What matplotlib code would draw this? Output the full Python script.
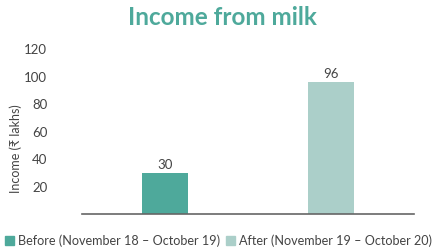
import matplotlib
matplotlib.use("Agg")
import matplotlib.pyplot as plt
from matplotlib.patches import Patch

plt.rcParams['font.family'] = ['Lato', 'DejaVu Sans']

periods = ["Before (November 18 – October 19)", "After (November 19 – October 20)"]
income = [30, 96]
colors = ["#4ea99b", "#abcfc9"]
yticks = [20, 40, 60, 80, 100, 120]

TEXT = "#444444"

fig = plt.figure(figsize=(4.43, 2.52), dpi=100)
ax = fig.add_axes([0.1851, 0.1508, 0.7494, 0.6528])

x = range(len(income))
bars = ax.bar(x, income, width=0.28, color=colors)
for b, v in zip(bars, income):
    ax.text(b.get_x() + b.get_width() / 2, v + 1.5, str(v), ha="center", va="bottom",
            fontsize=9.5, color=TEXT)

ax.set_xlim(-0.5, 1.5)
ax.set_ylim(0, 120)
ax.set_yticks(yticks)
ax.set_xticks([])
ax.tick_params(axis="y", length=0, pad=25, labelsize=9.5, labelcolor=TEXT)
for s in ["top", "right", "left"]:
    ax.spines[s].set_visible(False)
ax.spines["bottom"].set_color("#666666")
ax.spines["bottom"].set_linewidth(1.2)

ax.set_ylabel("Income (₹ lakhs)", fontsize=9, color=TEXT, labelpad=2)
ax.yaxis.set_label_coords(-0.18, 0.4)

fig.suptitle("Income from milk", x=0.503, y=0.975, fontsize=17.5, fontweight="bold",
             color="#4ea99b")

handles = [Patch(color=c) for c in colors]
fig.legend(handles, periods, loc="lower left", bbox_to_anchor=(0.0, 0.0), ncol=2,
           frameon=False, fontsize=9.1, handlelength=0.7, handleheight=0.7,
           handletextpad=0.3, columnspacing=0.5, labelcolor=TEXT,
           borderaxespad=0.1, borderpad=0.3)

fig.savefig("out.png", dpi=100)
